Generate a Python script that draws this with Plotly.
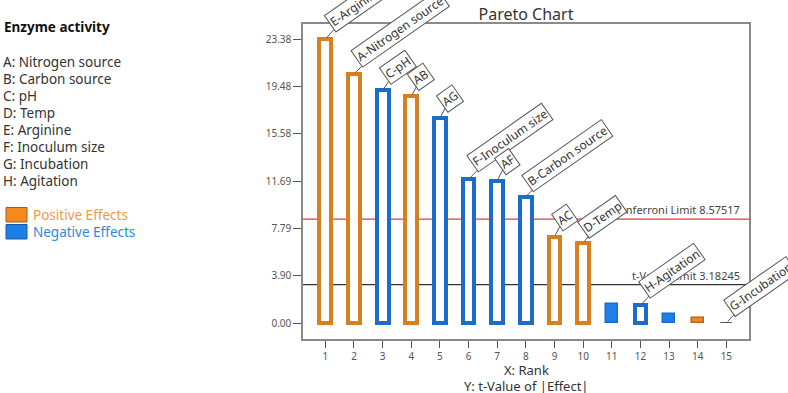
import math
import plotly.graph_objects as go

# ---------------- data ----------------
ranks = list(range(1, 16))
terms = ["E-Arginine", "A-Nitrogen source", "C-pH", "AB", "AG", "F-Inoculum size", "AF",
         "B-Carbon source", "AC", "D-Temp", "", "H-Agitation", "", "", "G-Incubation"]
t_values = [23.38, 20.53, 19.16, 18.67, 16.89, 11.86, 11.75, 10.43, 7.13, 6.59,
            1.56, 1.47, 0.75, 0.42, 0.04]
effect_sign = ["+", "+", "-", "+", "-", "-", "-", "-", "+", "+", "-", "-", "-", "+", "0"]
solid_bar = [False] * 10 + [True, False, True, True, True]
y_tick_vals = [0.00, 3.90, 7.79, 11.69, 15.58, 19.48, 23.38]
y_tick_text = ["0.00", "3.90", "7.79", "11.69", "15.58", "19.48", "23.38"]
bonferroni_limit = 8.57517
t_value_limit = 3.18245
factor_names = ["A: Nitrogen source", "B: Carbon source", "C: pH", "D: Temp",
                "E: Arginine", "F: Inoculum size", "G: Incubation", "H: Agitation"]

# ---------------- styles ----------------
ORANGE = "#D8801F"
BLUE = "#1B6CCB"
BLUE_SOLID = "#1E80E6"
GREY = "#555555"
FONT = "Noto Sans"
W, H = 788, 393
ML, MR, MT, MB = 303, 39, 24, 54
PW, PH = W - ML - MR, H - MT - MB


def px_x(px):
    return (px - ML) / PW


def px_y(py):
    return (H - MB - py) / PH


fill_cols, line_cols, line_ws = [], [], []
for s, solid in zip(effect_sign, solid_bar):
    c = ORANGE if s == "+" else (BLUE if s == "-" else GREY)
    if s == "0":
        fill_cols.append(GREY); line_cols.append(GREY); line_ws.append(1)
    elif solid:
        fill_cols.append(BLUE_SOLID if s == "-" else "#F08A24")
        line_cols.append(BLUE if s == "-" else "#B8661A"); line_ws.append(1.5)
    else:
        fill_cols.append("white"); line_cols.append(c); line_ws.append(4)

fig = go.Figure()
fig.add_trace(go.Bar(
    x=ranks, y=t_values, width=0.41,
    marker=dict(color=fill_cols, line=dict(color=line_cols, width=line_ws)),
    hoverinfo="x+y", showlegend=False,
))

annotations = []
annotations.append(dict(x=0.985, xref="paper", y=bonferroni_limit, yref="y",
                        text="Bonferroni Limit 8.57517", showarrow=False,
                        xanchor="right", yanchor="bottom", yshift=0,
                        font=dict(family=FONT, size=11, color="#444")))
annotations.append(dict(x=0.985, xref="paper", y=t_value_limit, yref="y",
                        text="t-Value Limit 3.18245", showarrow=False,
                        xanchor="right", yanchor="bottom", yshift=0,
                        font=dict(family=FONT, size=11, color="#444")))

# rotated term labels
ang = 35.0
ca, sa = math.cos(math.radians(ang)), math.sin(math.radians(ang))
LAB_SIZE = 12
hbox = 18.0
for r, v, lab in zip(ranks, t_values, terms):
    if not lab:
        continue
    L = 5.9 * len(lab) + 6
    ax = 8 + (L / 2) * ca - (hbox / 2) * sa
    ay = -(7 + (L / 2) * sa + (hbox / 2) * ca)
    annotations.append(dict(
        x=r, y=v, xref="x", yref="y", text=lab, textangle=-ang,
        showarrow=True, arrowhead=0, arrowwidth=1, arrowcolor="#555",
        ax=ax, ay=ay, standoff=2,
        bordercolor="#555", borderwidth=1, borderpad=1, bgcolor="white",
        font=dict(family=FONT, size=LAB_SIZE, color="#333")))

# left side texts
annotations.append(dict(x=px_x(2), y=px_y(27), xref="paper", yref="paper",
                        text="<b>Enzyme activity</b>", showarrow=False,
                        xanchor="left", yanchor="middle",
                        font=dict(family=FONT, size=13.5, color="#111")))
for i, name in enumerate(factor_names):
    annotations.append(dict(x=px_x(1), y=px_y(61.7 + 17.0 * i), xref="paper", yref="paper",
                            text=name, showarrow=False, xanchor="left", yanchor="middle",
                            font=dict(family=FONT, size=13.5, color="#333")))
annotations.append(dict(x=px_x(31), y=px_y(214.5), xref="paper", yref="paper",
                        text="Positive Effects", showarrow=False, xanchor="left",
                        yanchor="middle", font=dict(family=FONT, size=13.5, color="#F09A45")))
annotations.append(dict(x=px_x(31), y=px_y(231.7), xref="paper", yref="paper",
                        text="Negative Effects", showarrow=False, xanchor="left",
                        yanchor="middle", font=dict(family=FONT, size=13.5, color="#2F86E3")))

# axis titles
annotations.append(dict(x=0.5, y=px_y(369.5), xref="paper", yref="paper", text="X: Rank",
                        showarrow=False, xanchor="center", yanchor="middle",
                        font=dict(family=FONT, size=13, color="#333")))
annotations.append(dict(x=0.5, y=px_y(385.5), xref="paper", yref="paper",
                        text="Y: t-Value of |Effect|", showarrow=False,
                        xanchor="center", yanchor="middle",
                        font=dict(family=FONT, size=13, color="#333")))

shapes = [
    dict(type="line", xref="paper", yref="y", x0=0, x1=1, y0=bonferroni_limit,
         y1=bonferroni_limit, line=dict(color="#E8363C", width=1.2), layer="below"),
    dict(type="line", xref="paper", yref="y", x0=0, x1=1, y0=t_value_limit,
         y1=t_value_limit, line=dict(color="#333333", width=1.2), layer="below"),
    dict(type="rect", xref="paper", yref="paper", x0=px_x(6), x1=px_x(27),
         y0=px_y(222), y1=px_y(207.5), fillcolor="#F28A1E", line=dict(color="#A85A14", width=1)),
    dict(type="rect", xref="paper", yref="paper", x0=px_x(6), x1=px_x(27),
         y0=px_y(239), y1=px_y(224.5), fillcolor="#1E80E6", line=dict(color="#1658A8", width=1)),
]

fig.update_layout(
    width=W, height=H,
    margin=dict(l=ML, r=MR, t=MT, b=MB, pad=0),
    paper_bgcolor="white", plot_bgcolor="white",
    title=dict(text="Pareto Chart", x=(ML + 0.5 * PW) / W, xanchor="center",
               y=1 - 14 / H, yanchor="middle",
               font=dict(family=FONT, size=16, color="#333")),
    xaxis=dict(range=[0.22, 15.79], tickvals=ranks, ticks="outside", ticklen=7,
               tickcolor="#555", showgrid=False, zeroline=False, showline=True,
               mirror=True, linecolor="#8a8a8a", linewidth=1.5,
               tickfont=dict(family=FONT, size=10, color="#555")),
    yaxis=dict(range=[-1.29, 24.63], tickvals=y_tick_vals, ticktext=y_tick_text,
               ticks="outside", ticklen=8, tickcolor="#555", showgrid=False,
               zeroline=False, showline=True, mirror=True, linecolor="#8a8a8a",
               linewidth=1.5, tickfont=dict(family=FONT, size=10, color="#555")),
    annotations=annotations, shapes=shapes,
    bargap=0, showlegend=False,
)

fig.write_html("out.html")
